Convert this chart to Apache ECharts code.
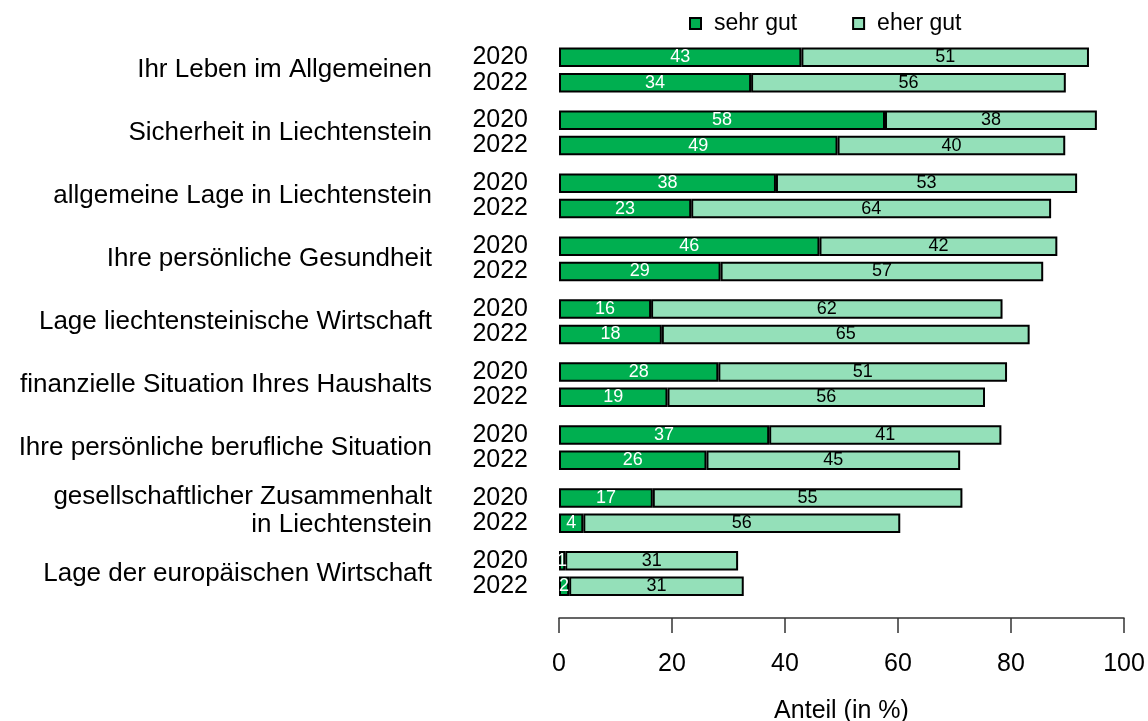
<!DOCTYPE html>
<html>
<head>
<meta charset="utf-8">
<script src="https://cdn.jsdelivr.net/npm/echarts@6/dist/echarts.min.js"></script>
<style>
  body { margin: 0; background: #fff; }
  #map { width: 1148px; height: 721px; }
</style>
</head>
<body>
<div id="map"></div>
<script>
  // Kategorien (von oben nach unten)
  var categories = [
    'Ihr Leben im Allgemeinen',
    'Sicherheit in Liechtenstein',
    'allgemeine Lage in Liechtenstein',
    'Ihre persönliche Gesundheit',
    'Lage liechtensteinische Wirtschaft',
    'finanzielle Situation Ihres Haushalts',
    'Ihre persönliche berufliche Situation',
    'gesellschaftlicher Zusammenhalt\nin Liechtenstein',
    'Lage der europäischen Wirtschaft'
  ];
  var years = ['2020', '2022'];
  var seriesNames = ['sehr gut', 'eher gut'];

  // Anteile in %
  var sehrGut2020 = [42.9, 57.7, 38.4, 46.1, 16.3, 28.2, 37.2, 16.6, 1.1];
  var eherGut2020 = [50.9, 37.5, 53.3, 42.1, 62.2, 51.1, 41.1, 54.8, 30.6];
  var sehrGut2022 = [34.0, 49.3, 23.4, 28.6, 18.2, 19.2, 26.1, 4.3, 1.8];
  var eherGut2022 = [55.7, 40.3, 63.7, 57.1, 65.1, 56.2, 44.9, 56.1, 30.9];

  var xTicks = [0, 20, 40, 60, 80, 100];

  var colDark = '#00AF50';
  var colLight = '#94E0B9';
  var font = 'Liberation Sans, Arial, sans-serif';

  var myChart = echarts.init(document.getElementById('map'));

  function yearSeries(year) {
    // unsichtbarer Balken mit Wert 0, nur fuer die Jahres-Beschriftung
    return {
      name: year,
      type: 'bar',
      stack: 'y' + year,
      barWidth: 19.5,
      barGap: '30%',
      data: categories.map(function () { return 0; }),
      itemStyle: { color: 'rgba(0,0,0,0)', borderWidth: 0 },
      label: {
        show: true,
        position: 'left',
        distance: 31,
        formatter: year,
        fontSize: 25,
        fontFamily: font,
        color: '#000'
      },
      silent: true
    };
  }

  function valueSeries(name, year, data, color, textColor) {
    return {
      name: name,
      type: 'bar',
      stack: 'y' + year,
      barWidth: 19.5,
      barGap: '30%',
      data: data,
      itemStyle: { color: color, borderColor: '#000', borderWidth: 2 },
      label: {
        show: true,
        position: 'inside',
        fontSize: 18,
        fontFamily: font,
        color: textColor,
        formatter: function (p) { return Math.round(p.value); }
      }
    };
  }

  var option = {
    animation: false,
    legend: {
      data: seriesNames,
      top: 7,
      left: 684,
      itemWidth: 11,
      itemHeight: 11,
      itemGap: 55,
      icon: 'rect',
      textStyle: { fontSize: 23, fontFamily: font, color: '#000', padding: [0, 0, 0, 8] }
    },
    grid: { left: 559, right: 24, top: 38.5, bottom: 116, containLabel: false, outerBoundsMode: 'none' },
    xAxis: {
      type: 'value',
      min: xTicks[0],
      max: xTicks[xTicks.length - 1],
      interval: 20,
      offset: 13,
      name: 'Anteil (in %)',
      nameLocation: 'middle',
      nameGap: 81,
      nameTextStyle: { fontSize: 25, fontFamily: font, color: '#000' },
      axisLine: { show: true, lineStyle: { color: '#333', width: 1.5 } },
      axisTick: { show: true, length: 15, lineStyle: { color: '#333', width: 1.5 } },
      axisLabel: { fontSize: 25, fontFamily: font, color: '#000', margin: 34 },
      splitLine: { show: false }
    },
    yAxis: {
      type: 'category',
      data: categories,
      inverse: true,
      axisLine: { show: false },
      axisTick: { show: false },
      axisLabel: {
        fontSize: 26,
        fontFamily: font,
        color: '#000',
        margin: 127,
        lineHeight: 28
      }
    },
    series: [
      yearSeries(years[0]),
      valueSeries(seriesNames[0], years[0], sehrGut2020, colDark, '#fff'),
      valueSeries(seriesNames[1], years[0], eherGut2020, colLight, '#000'),
      yearSeries(years[1]),
      valueSeries(seriesNames[0], years[1], sehrGut2022, colDark, '#fff'),
      valueSeries(seriesNames[1], years[1], eherGut2022, colLight, '#000')
    ]
  };

  myChart.setOption(option);
</script>
</body>
</html>
